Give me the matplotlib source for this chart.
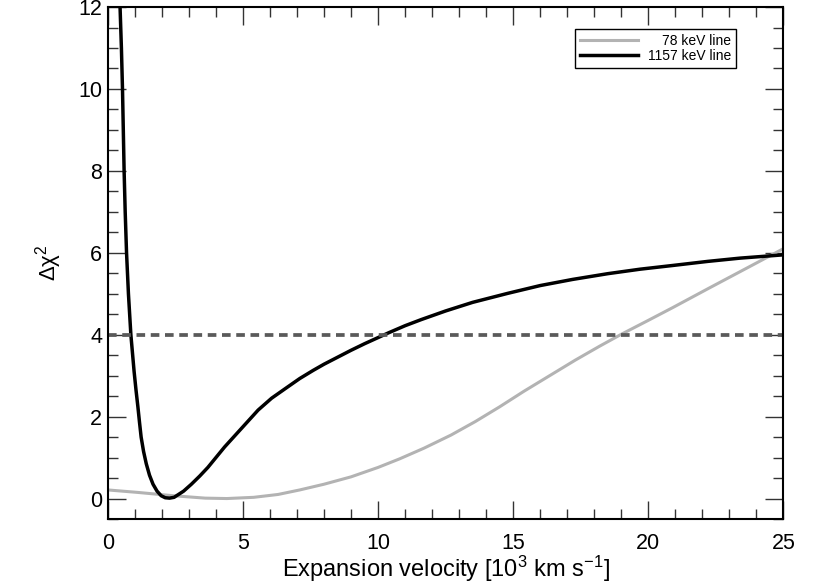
"""
Delta chi-square versus expansion velocity for the 78 keV and 1157 keV lines.
"""
import matplotlib
matplotlib.use('Agg')
import matplotlib.pyplot as plt
from matplotlib.ticker import MultipleLocator

plt.rcParams['font.family'] = ['Liberation Sans', 'DejaVu Sans']
plt.rcParams['mathtext.fontset'] = 'custom'
plt.rcParams['mathtext.rm'] = 'Liberation Sans'
plt.rcParams['mathtext.it'] = 'Liberation Sans'

# values (velocity in 10^3 km/s)
v_78 = [0.0, 1.1, 2.4, 3.6, 4.4, 5.4, 6.3, 7.1, 8.0, 9.0, 10.0, 10.8, 11.7,
        12.7, 13.6, 14.5, 15.4, 16.4, 17.3, 18.2, 19.0, 20.0, 20.9, 22.2,
        23.4, 25.0]
chi_78 = [0.21, 0.15, 0.07, 0.01, 0.0, 0.03, 0.10, 0.21, 0.35, 0.53, 0.76,
          0.97, 1.23, 1.55, 1.88, 2.24, 2.62, 3.02, 3.38, 3.72, 4.01, 4.35,
          4.66, 5.12, 5.54, 6.10]

v_1157 = [0.30, 0.45, 0.50, 0.54, 0.57, 0.60, 0.64, 0.69, 0.76, 0.85, 0.97,
          1.04, 1.11, 1.17, 1.23, 1.32, 1.42, 1.54, 1.67, 1.82, 1.97, 2.12,
          2.28, 2.45, 2.59, 2.8, 3.09, 3.40, 3.70, 4.01, 4.32, 4.94, 5.56,
          6.06, 6.6, 7.1, 7.6, 8.0, 8.5, 9.0, 9.5, 10.0, 10.4, 11.0, 11.6,
          12.5, 13.5, 14.8, 16.0, 17.2, 18.5, 19.7, 20.9, 22.2, 23.4, 25.0]
chi_1157 = [15.0, 12.0, 11.0, 10.0, 9.0, 8.0, 7.0, 6.0, 5.0, 4.0, 3.1, 2.65,
            2.24, 1.86, 1.50, 1.15, 0.85, 0.57, 0.35, 0.18, 0.07, 0.02, 0.01,
            0.03, 0.09, 0.18, 0.35, 0.55, 0.76, 1.01, 1.26, 1.71, 2.16, 2.45,
            2.70, 2.93, 3.13, 3.28, 3.45, 3.62, 3.78, 3.93, 4.05, 4.22, 4.37,
            4.58, 4.79, 5.01, 5.20, 5.35, 5.49, 5.60, 5.69, 5.79, 5.87, 5.95]

threshold = 4.0
labels = ['78 keV line', '1157 keV line']

fig = plt.figure(figsize=(8.3, 5.87), dpi=100)
ax = fig.add_axes([0.130, 0.1158, 0.8138, 0.8722])

ax.plot(v_78, chi_78, color='#b3b3b3', lw=2.2, label=labels[0],
        solid_joinstyle='round')
ax.plot(v_1157, chi_1157, color='black', lw=2.5, label=labels[1],
        solid_joinstyle='round')
ax.axhline(threshold, color='#5a5a5a', lw=2.7, dashes=(2.3, 1.5))

ax.set_xlim(0, 25)
ax.set_ylim(-0.5, 12)
ax.xaxis.set_major_locator(MultipleLocator(5))
ax.xaxis.set_minor_locator(MultipleLocator(1))
ax.yaxis.set_major_locator(MultipleLocator(2))
ax.yaxis.set_minor_locator(MultipleLocator(0.5))
ax.tick_params(which='both', direction='in', top=True, right=True,
               labelsize=15.5, width=1.0, color='#333333')
ax.tick_params(which='major', length=13)
ax.tick_params(which='minor', length=7)
ax.tick_params(axis='x', which='major', pad=10)
ax.tick_params(axis='y', which='major', pad=4)
for s in ax.spines.values():
    s.set_linewidth(1.5)

ax.set_xlabel(r'Expansion velocity [10$^3$ km s$^{-1}$]', fontsize=17,
              labelpad=0)
ax.set_ylabel('Δχ$^2$', fontsize=16, labelpad=10)

leg = ax.legend(loc='upper right', bbox_to_anchor=(0.930, 0.9565),
                borderaxespad=0, fontsize=10, fancybox=False,
                edgecolor='black', framealpha=1, handlelength=4.2,
                handletextpad=0.7, labelspacing=0.05, borderpad=0.35)
leg.get_frame().set_linewidth(1.0)

# right-align the legend texts like the original
fig.canvas.draw()
renderer = fig.canvas.get_renderer()
widths = [t.get_window_extent(renderer).width for t in leg.get_texts()]
for t, w in zip(leg.get_texts(), widths):
    t.set_position((max(widths) - w, 0))

fig.savefig('out.png', dpi=100)
